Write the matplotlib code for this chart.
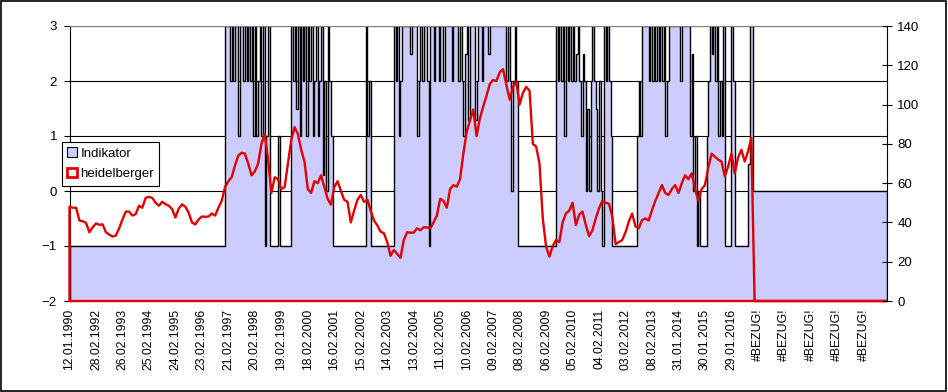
import matplotlib.pyplot as plt
import numpy as np
from matplotlib.patches import Patch, Rectangle

plt.rcParams['font.family'] = ['Liberation Sans', 'DejaVu Sans']

# category labels (one every 8 line samples / 16 indicator steps)
date_labels = ['12.01.1990', '28.02.1992', '26.02.1993', '25.02.1994', '24.02.1995',
               '23.02.1996', '21.02.1997', '20.02.1998', '19.02.1999', '18.02.2000',
               '16.02.2001', '15.02.2002', '14.02.2003', '13.02.2004', '11.02.2005',
               '10.02.2006', '09.02.2007', '08.02.2008', '06.02.2009', '05.02.2010',
               '04.02.2011', '03.02.2012', '08.02.2013', '31.01.2014', '30.01.2015',
               '29.01.2016', '#BEZUG!', '#BEZUG!', '#BEZUG!', '#BEZUG!', '#BEZUG!']

# heidelberger (right axis), 8 samples per label interval
heidelberger = [
    48, 47.5, 47.5, 41, 40.6, 39.8, 35, 37.5, 39.5, 38.8,
    39, 35, 33.8, 32.8, 33.3, 37, 41.5, 45.5, 45.5, 43.5,
    44.2, 48.5, 47.5, 52.5, 53, 52.5, 50, 48.5, 50.5, 49.3,
    48.5, 46.8, 42.5, 47, 49.2, 48, 45, 40, 39, 41.5,
    43, 42.9, 43, 44.5, 43.5, 47.5, 51, 58, 61, 63,
    69, 74, 75.5, 75, 70, 64, 66, 70, 80, 85,
    72, 55, 63, 62, 57, 58, 70, 82, 88.5, 85,
    77, 71, 57, 55, 61, 60, 64, 58, 52, 49,
    58, 61, 56, 51.5, 50.5, 40, 46, 51.5, 54, 50.5,
    51.5, 46, 41, 38.5, 35.3, 34.5, 30, 23, 26, 24,
    22, 31, 35, 34.8, 34.8, 37, 36, 37.5, 37.5, 37,
    40, 43.5, 52, 51, 47.5, 57, 59, 58.2, 62, 75,
    86, 92, 97.5, 84, 93, 99, 104.5, 110.5, 112.5, 112,
    116.5, 118, 110, 102.5, 109, 111.7, 100, 106, 109, 107,
    80, 78.6, 70, 42, 27.6, 22.6, 28, 31, 30, 40,
    44.6, 46, 50, 38.7, 44, 45.5, 38.7, 33, 36, 42,
    47.2, 51, 50, 49.5, 43, 29, 30, 31, 35, 40.5,
    44.5, 38, 37, 41.2, 42, 41, 46.3, 51, 55, 59,
    55, 54, 57, 59, 55, 60, 64, 62, 65, 57,
    51, 57, 59, 68, 75, 73.5, 72, 71, 63.5, 68.4,
    75, 65, 73, 77, 71, 76, 83,
]
# rows with #BEZUG! come out as 0
heidelberger_bezug = [0] * 41

# Indikator (left axis) as (value, number of steps), 16 steps per label interval
indikator_runs = [
    (-1, 94), (3, 3), (2, 1), (3, 1), (2, 1), (3, 2), (1, 1), (3, 2),
    (2, 1), (3, 1), (2, 1), (3, 1), (2, 1), (3, 1), (1, 1),
    (3, 1), (1, 1), (2, 1), (3, 1), (1, 1), (3, 1),
    (-1, 1), (1, 1), (3, 1), (-1, 5), (1, 1), (-1, 7),
    (3, 1), (2, 1), (3, 1), (1.5, 1), (3, 1), (1, 1), (3, 1), (2, 1), (3, 1), (1, 1),
    (3, 1), (2, 1), (3, 1), (1, 1), (2, 1), (3, 1), (1, 1), (2, 1), (3, 1), (0.3, 1),
    (2, 1), (0, 1), (3, 1), (2, 1), (1, 1),
    (-1, 20), (3, 1), (1, 1), (2, 1), (-1, 14),
    (3, 1), (2, 1), (3, 1), (1, 1), (2, 1), (3, 5), (2.5, 1), (3, 3), (1, 1),
    (2, 1), (3, 1), (2, 1), (3, 2), (2, 1), (-1, 1),
    (3, 2), (2, 1), (3, 2), (2, 1), (3, 2), (2, 1), (3, 4), (2, 1), (3, 3),
    (2, 1), (3, 1), (2, 1), (1, 1), (2.5, 1), (3, 1), (1.3, 1), (3, 3), (1.3, 1),
    (2, 1), (3, 2), (2, 1), (3, 3), (2.5, 1), (3, 10),
    (2, 1), (3, 1), (2, 1), (0, 1), (2, 1), (3, 1), (2, 1), (-1, 23),
    (3, 1), (2, 1), (3, 1), (2, 1), (3, 1), (1, 1), (3, 1), (2, 1), (3, 1), (2, 1),
    (3, 1), (2, 1), (2.5, 1),
    (3, 1), (2, 1), (1, 1), (2.5, 1), (2, 1), (0, 1), (1.5, 1), (0, 1),
    (2, 1), (3, 1), (2, 1), (1.5, 1), (0, 1), (2, 1), (0, 1), (-1, 1),
    (3, 1), (2, 1), (3, 1), (2, 1), (1, 1), (-1, 15),
    (1, 1), (2, 1), (1, 1), (3, 4), (2, 1),
    (3, 1), (2, 1), (3, 1), (2, 1), (3, 1), (2, 1),
    (3, 1), (2, 1), (3, 1), (1, 1), (2, 1),
    (3, 7), (2, 1), (3, 5), (1, 1), (2.5, 1),
    (0, 1), (1, 1), (-1, 1), (0, 1), (-1, 4), (1, 1), (2, 1),
    (3, 1), (2.5, 1), (3, 1), (2, 1), (3, 1), (1, 1), (2, 1), (1, 1), (3, 1),
    (-1, 4), (3, 1), (2, 1), (-1, 8), (0.5, 1), (3, 2),
    (0, 81),
]

red = np.array(heidelberger + heidelberger_bezug, dtype=float)
x_red = np.arange(len(red)) / 8
ind = np.concatenate([np.full(n, v, dtype=float) for v, n in indikator_runs])
edges = np.arange(len(ind) + 1) / 16

W, H = 948, 392
fig = plt.figure(figsize=(W / 100, H / 100), dpi=100)
ax = fig.add_axes([69.5 / W, (H - 301) / H, (887 - 69.5) / W, 275 / H])

# Indikator area
ax.stairs(ind, edges, baseline=-2, fill=True, facecolor='#ccccff',
          edgecolor='black', linewidth=1.0)
ax.set_xlim(0, x_red[-1])
ax.set_ylim(-2, 3)
ax.set_yticks(range(-2, 4))
ax.grid(axis='y', color='black', linewidth=0.8)
ax.set_axisbelow(True)
ax.set_xticks(np.arange(len(date_labels)))
ax.set_xticklabels(date_labels, rotation=90)
ax.tick_params(axis='x', length=0, pad=5.5, labelsize=8.8)
ax.tick_params(axis='y', direction='out', length=4, width=0.8, pad=5, labelsize=9.5)
ax.spines['top'].set_color('#808080')
ax.spines['right'].set_visible(False)
for s in ['left', 'bottom']:
    ax.spines[s].set_linewidth(0.8)

# heidelberger area, outline only
ax2 = ax.twinx()
ax2.fill_between(x_red, 0, red, facecolor='none', edgecolor='#e00000',
                 linewidth=1.7, clip_on=False)
ax2.set_ylim(0, 140)
ax2.set_yticks(range(0, 141, 20))
ax2.tick_params(axis='y', direction='inout', length=7, width=0.8, pad=4, labelsize=9.5)
for s in ['top', 'left', 'bottom']:
    ax2.spines[s].set_visible(False)
ax2.spines['right'].set_linewidth(0.8)

handles = [Patch(facecolor='#ccccff', edgecolor='black', linewidth=0.8),
           Patch(facecolor='white', edgecolor='#e00000', linewidth=2)]
leg = fig.legend(handles, ['Indikator', 'heidelberger'], loc='upper left',
                 bbox_to_anchor=(62 / W, 1 - 142 / H), fontsize=9.5,
                 fancybox=False, framealpha=1, edgecolor='black',
                 handlelength=0.7, handleheight=0.7, handletextpad=0.3,
                 borderpad=0.4, labelspacing=0.65, borderaxespad=0)
leg.get_frame().set_linewidth(0.8)

# chart border
fig.patches.append(Rectangle((0.001, 0.002), 0.997, 0.995, transform=fig.transFigure,
                             fill=False, edgecolor='black', linewidth=1.2))

fig.savefig('out.png', dpi=100)
